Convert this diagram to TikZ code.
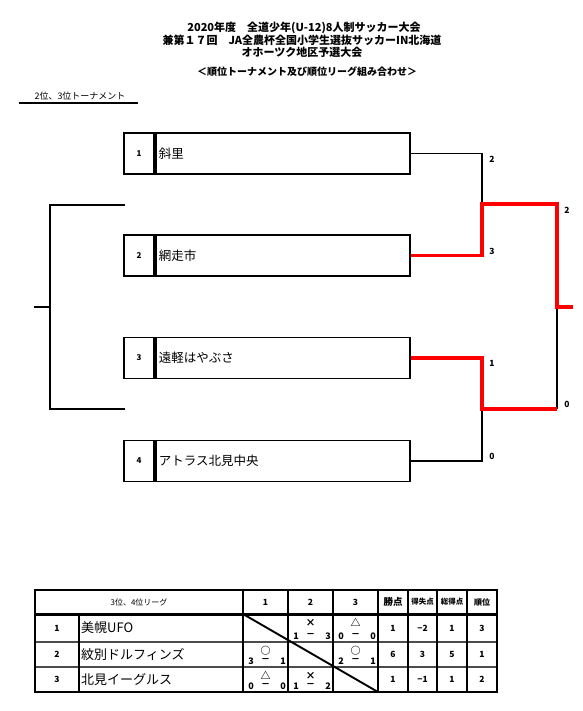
\documentclass[tikz,border=0pt]{standalone}
\usepackage{fontspec}
\setmainfont{Noto Sans CJK JP}
\newcommand{\fsz}[1]{\fontsize{#1}{#1}\selectfont}
\newcommand{\sccell}[8]{%
  % #1 name, #2 xl, #3 xr, #4 ytop, #5 ybot, #6 symbol, #7 a, #8 b
  \node[sym] (#1s) at ({(#2+#3)/2},{#4+8.5}) {#6};
  \node[scr] (#1a) at ({#2+8},{#5-6}) {#7};
  \node[scr] (#1d) at ({(#2+#3)/2},{#5-6}) {－};
  \node[scr] (#1b) at ({#3-5},{#5-6}) {#8};
}
\begin{document}
\begin{tikzpicture}[x=1pt,y=-1pt,
  blk/.style={line width=1.6pt,black},
  redl/.style={line width=3.4pt,red},
  cellbox/.style={draw,line width=1.8pt,minimum height=41pt,inner sep=0pt},
  numcell/.style={cellbox,minimum width=30pt,font=\fsz{8}\bfseries},
  namecell/.style={cellbox,minimum width=254pt,text width=248pt,inner xsep=3pt,align=left,font=\fsz{12.5},anchor=west},
  title/.style={font=\fsz{11}\bfseries,inner sep=0pt},
  score/.style={font=\fsz{8.5}\bfseries,inner sep=0pt},
  sym/.style={font=\fsz{10}\bfseries,inner sep=0pt},
  scr/.style={font=\fsz{9}\bfseries,inner sep=0pt},
  tcell/.style={font=\fsz{8.5}\bfseries,inner sep=0pt},
  tgrid/.style={line width=1.9pt,black},
  thin/.style={line width=1.1pt,black!70}]
\useasboundingbox (0,0) rectangle (582,711);

% ---- titles
\node[title] (t1) at (304,27.5) {2020年度　全道少年(U-12)8人制サッカー大会};
\node[title] (t2) at (302,40) {兼第１７回　JA全農杯全国小学生選抜サッカーIN北海道};
\node[title] (t3) at (302,52) {オホーツク地区予選大会};
\node[title,font=\fsz{10}\bfseries] (t4) at (307,72) {＜順位トーナメント及び順位リーグ組み合わせ＞};

% ---- subtitle
\node[font=\fsz{9},inner sep=0pt] (sub) at (80,96) {2位、3位トーナメント};
\coordinate (ul1) at (19,103);
\coordinate (ul2) at (138,103);
\draw[line width=1.8pt] (ul1) -- (ul2);

% ---- boxes
\node[numcell] (n1) at (139,153.5) {1};
\node[namecell] (b1) at (n1.east) {斜里};
\node[numcell] (n2) at (139,255.5) {2};
\node[namecell] (b2) at (n2.east) {網走市};
\node[numcell] (n3) at (139,358) {3};
\node[namecell] (b3) at (n3.east) {遠軽はやぶさ};
\node[numcell] (n4) at (139,461) {4};
\node[namecell] (b4) at (n4.east) {アトラス北見中央};

% ---- left bracket
\coordinate (lt) at (125,205);
\coordinate (lb) at (125,409);
\coordinate (lm) at (50,307);
\coordinate (ls) at (34,307);
\draw[blk] (lt) -- (lt -| lm) -- (lb -| lm) -- (lb);
\draw[blk] (ls) -- (lm);

% ---- right bracket
\coordinate (j12) at (482,204);
\coordinate (j34) at (482,409);
\coordinate (fin) at (557,307);
\coordinate (out) at (573,307);
\draw[blk] (b1.east) -- (b1.east -| j12) -- (j12);
\draw[blk] (b4.east) -- (b4.east -| j34) -- (j34);
\draw[blk] (fin) -- (fin |- j34);
\draw[redl] (b2.east) -- (b2.east -| j12) -- (j12) -- (j12 -| fin) -- (fin) -- (out);
\draw[redl] (b3.east) -- (b3.east -| j34) -- (j34) -- (j34 -| fin);

\node[score] (s1) at (492,159) {2};
\node[score] (s2) at (492,251) {3};
\node[score] (s3) at (492,363) {1};
\node[score] (s4) at (492,456) {0};
\node[score] (s5) at (567,210) {2};
\node[score] (s6) at (567,404) {0};

% ---- table
\draw[thin] (35,642) -- (497,642);
\draw[thin] (35,667) -- (497,667);
\draw[tgrid] (79,614) -- (79,692);
\foreach \xx in {243,288,333,378,408,437,467}
  \draw[tgrid] (\xx,590) -- (\xx,692);
\draw[line width=3pt] (35,614) -- (497,614);
\draw[line width=2pt] (35,590) rectangle (497,692);
\draw[line width=1.9pt] (243,614) -- (378,692);

\node[tcell,font=\fsz{8}] (hh) at (139,602) {3位、4位リーグ};
\node[tcell] (h1) at (265.5,602) {1};
\node[tcell] (h2) at (310.5,602) {2};
\node[tcell] (h3) at (355.5,602) {3};
\node[tcell,font=\fsz{9.5}\bfseries] (h4) at (393,602) {勝点};
\node[tcell,font=\fsz{7.5}\bfseries] (h5) at (422.5,602) {得失点};
\node[tcell,font=\fsz{7.5}\bfseries] (h6) at (452,602) {総得点};
\node[tcell,font=\fsz{8}\bfseries] (h7) at (482,602) {順位};

\node[tcell] (r1) at (57,628) {1};
\node[tcell] (r2) at (57,654.5) {2};
\node[tcell] (r3) at (57,679.5) {3};
\node[tcell,font=\fsz{13},anchor=west] (m1) at (81,628) {美幌UFO};
\node[tcell,font=\fsz{13},anchor=west] (m2) at (81,654.5) {紋別ドルフィンズ};
\node[tcell,font=\fsz{13},anchor=west] (m3) at (81,679.5) {北見イーグルス};

\sccell{c12}{288}{333}{614}{642}{×}{1}{3}
\sccell{c13}{333}{378}{614}{642}{△}{0}{0}
\sccell{c21}{243}{288}{642}{667}{○}{3}{1}
\sccell{c23}{333}{378}{642}{667}{○}{2}{1}
\sccell{c31}{243}{288}{667}{692}{△}{0}{0}
\sccell{c32}{288}{333}{667}{692}{×}{1}{2}

\node[tcell] (p1) at (393,628) {1};
\node[tcell] (q1) at (422.5,628) {−2};
\node[tcell] (g1) at (452,628) {1};
\node[tcell] (o1) at (482,628) {3};
\node[tcell] (p2) at (393,654.5) {6};
\node[tcell] (q2) at (422.5,654.5) {3};
\node[tcell] (g2) at (452,654.5) {5};
\node[tcell] (o2) at (482,654.5) {1};
\node[tcell] (p3) at (393,679.5) {1};
\node[tcell] (q3) at (422.5,679.5) {−1};
\node[tcell] (g3) at (452,679.5) {1};
\node[tcell] (o3) at (482,679.5) {2};
\end{tikzpicture}
\end{document}
